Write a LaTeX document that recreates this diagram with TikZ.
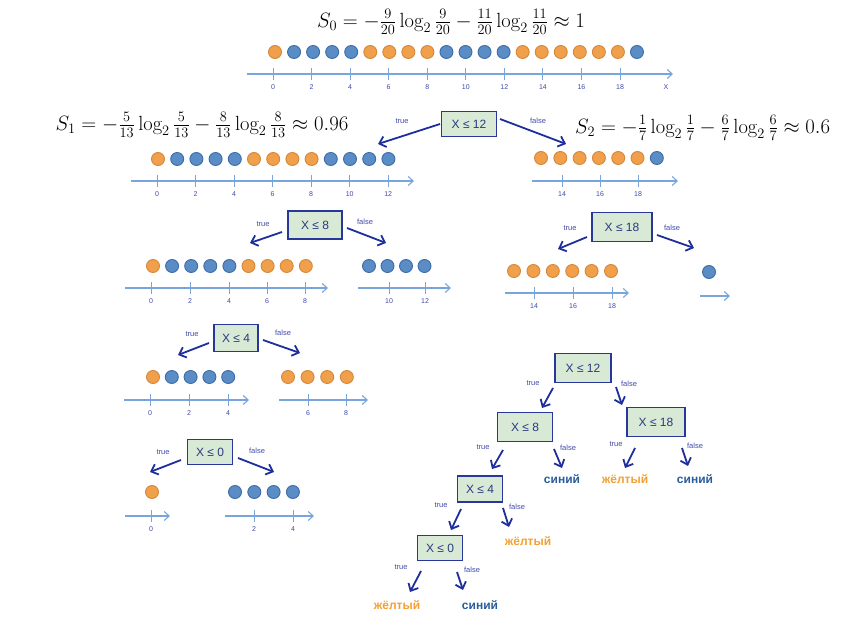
\documentclass[tikz,border=0pt]{standalone}
\usepackage{fontspec}
\setsansfont{Liberation Sans}
\usetikzlibrary{arrows.meta}
\definecolor{dotorange}{HTML}{F0A04B}
\definecolor{dotorangeline}{HTML}{D5873A}
\definecolor{dotblue}{HTML}{5A8CC6}
\definecolor{dotblueline}{HTML}{3E6CA6}
\definecolor{axisblue}{HTML}{7AA5DA}
\definecolor{labelblue}{HTML}{4048A8}
\definecolor{edgeblue}{HTML}{1E2E9C}
\definecolor{boxfill}{HTML}{D8EAD6}
\definecolor{boxline}{HTML}{27389A}
\definecolor{boxtext}{HTML}{2A3A80}
\definecolor{leafblue}{HTML}{2A5C9C}
\definecolor{leaforange}{HTML}{F2A033}

% a split arrow between two named end points
\newcommand\splitarrow[3]{%
  \coordinate (#1-s) at (#2);
  \coordinate (#1-e) at (#3);
  \draw[edge] (#1-s) -- (#1-e);}
% one tick with its value below the axis
\newcommand\axistick[4]{%
  \draw[tick] (#2,#3-6) -- (#2,#3+6);
  \node[ticklbl] (#1) at (#2,#3+13.5) {#4};}

\begin{document}
\begin{tikzpicture}[x=1pt,y=-1pt,
  doto/.style={circle, minimum size=13pt, inner sep=0pt, fill=dotorange, draw=dotorangeline, line width=0.9pt},
  dotb/.style={circle, minimum size=13pt, inner sep=0pt, fill=dotblue, draw=dotblueline, line width=0.9pt},
  axis/.style={draw=axisblue, line width=1.1pt, -{Straight Barb[length=5pt,width=9pt,line width=1.1pt]}},
  tick/.style={draw=axisblue, line width=0.9pt},
  ticklbl/.style={font=\sffamily\fontsize{7}{8}\selectfont, text=labelblue, inner sep=0pt},
  cond/.style={draw=boxline, fill=boxfill, line width=1.4pt, inner sep=0pt,
    font=\sffamily\fontsize{12}{14}\selectfont, text=boxtext},
  edge/.style={draw=edgeblue, line width=1.8pt, -{Straight Barb[length=6pt,width=11pt,line width=1.8pt]}},
  branch/.style={font=\sffamily\fontsize{7.5}{9}\selectfont, text=labelblue, inner sep=0pt},
  leafb/.style={font=\sffamily\bfseries\fontsize{12}{14}\selectfont, text=leafblue, inner sep=0pt},
  leafo/.style={font=\sffamily\bfseries\fontsize{12}{14}\selectfont, text=leaforange, inner sep=0pt},
  formula/.style={font=\fontsize{20.5}{24}\selectfont, inner sep=0pt}
]
\useasboundingbox (0,0) rectangle (866,628);

% ---------- entropy formulas ----------
\node[formula] (s0) at (451,22) {$S_0=-\frac{9}{20}\log_2\frac{9}{20}-\frac{11}{20}\log_2\frac{11}{20}\approx 1$};
\node[formula] (s1) at (202,125) {$S_1=-\frac{5}{13}\log_2\frac{5}{13}-\frac{8}{13}\log_2\frac{8}{13}\approx 0.96$};
\node[formula, anchor=west] (s2) at (575,128) {$S_2=-\frac{1}{7}\log_2\frac{1}{7}-\frac{6}{7}\log_2\frac{6}{7}\approx 0.6$};

% ---------- full sample ----------
\foreach \c [count=\i from 0] in {o,b,b,b,b,o,o,o,o,b,b,b,b,o,o,o,o,o,o,b}
  \node[dot\c] (a-\i) at ({275+19.05*\i},52) {};
\coordinate (ax0-s) at (247,74); \coordinate (ax0-e) at (673,74);
\draw[axis] (ax0-s) -- (ax0-e);
\foreach \v in {0,2,...,18} { \axistick{a-t\v}{273+19.28*\v}{74}{\v} }
\node[ticklbl] (a-x) at (666,87.5) {X};

% ---------- X <= 12 ----------
\node[cond, minimum width=55pt, minimum height=25pt] (c12) at (469,124) {X ≤ 12};
\node[branch] (c12-t) at (402,121) {true};
\node[branch] (c12-f) at (538,121) {false};
\splitarrow{c12a}{440,124}{378,144}
\splitarrow{c12b}{500,119}{566,144}

% left part, X <= 12
\foreach \c [count=\i from 0] in {o,b,b,b,b,o,o,o,o,b,b,b,b}
  \node[dot\c] (b-\i) at ({158+19.2*\i},159) {};
\coordinate (ax1-s) at (131,181); \coordinate (ax1-e) at (414,181);
\draw[axis] (ax1-s) -- (ax1-e);
\foreach \v in {0,2,...,12} { \axistick{b-t\v}{157+19.27*\v}{181}{\v} }

% right part, X > 12
\foreach \c [count=\i from 0] in {o,o,o,o,o,o,b}
  \node[dot\c] (c-\i) at ({541+19.3*\i},158) {};
\coordinate (ax2-s) at (532,181); \coordinate (ax2-e) at (678,181);
\draw[axis] (ax2-s) -- (ax2-e);
\foreach \v/\x in {14/562,16/600,18/638} { \axistick{c-t\v}{\x}{181}{\v} }

% ---------- X <= 8 ----------
\node[cond, minimum width=54pt, minimum height=28pt] (c8) at (315,225) {X ≤ 8};
\node[branch] (c8-t) at (263,224) {true};
\node[branch] (c8-f) at (365,222) {false};
\splitarrow{c8a}{282,232}{250,243}
\splitarrow{c8b}{347,228}{386,243}

\foreach \c [count=\i from 0] in {o,b,b,b,b,o,o,o,o}
  \node[dot\c] (d-\i) at ({153+19.1*\i},266) {};
\coordinate (ax3-s) at (125,288); \coordinate (ax3-e) at (328,288);
\draw[axis] (ax3-s) -- (ax3-e);
\foreach \v/\x in {0/151,2/190,4/229,6/267,8/305} { \axistick{d-t\v}{\x}{288}{\v} }

\foreach \c [count=\i from 0] in {b,b,b,b}
  \node[dot\c] (e-\i) at ({369+18.5*\i},266) {};
\coordinate (ax4-s) at (358,288); \coordinate (ax4-e) at (451,288);
\draw[axis] (ax4-s) -- (ax4-e);
\foreach \v/\x in {10/389,12/425} { \axistick{e-t\v}{\x}{288}{\v} }

% ---------- X <= 18 ----------
\node[cond, minimum width=60pt, minimum height=29pt] (c18) at (622,227) {X ≤ 18};
\node[branch] (c18-t) at (570,228) {true};
\node[branch] (c18-f) at (672,228) {false};
\splitarrow{c18a}{587,237}{558,249}
\splitarrow{c18b}{657,235}{694,248}

\foreach \c [count=\i from 0] in {o,o,o,o,o,o}
  \node[dot\c] (f-\i) at ({514+19.4*\i},271) {};
\coordinate (ax5-s) at (505,293); \coordinate (ax5-e) at (629,293);
\draw[axis] (ax5-s) -- (ax5-e);
\foreach \v/\x in {14/534,16/573,18/612} { \axistick{f-t\v}{\x}{293}{\v} }

\node[dotb] (g-0) at (709,272) {};
\coordinate (ax6-s) at (700,296); \coordinate (ax6-e) at (730,296);
\draw[axis] (ax6-s) -- (ax6-e);

% ---------- X <= 4 ----------
\node[cond, minimum width=44pt, minimum height=27pt] (c4) at (236,338) {X ≤ 4};
\node[branch] (c4-t) at (192,334) {true};
\node[branch] (c4-f) at (283,333) {false};
\splitarrow{c4a}{209,343}{178,355}
\splitarrow{c4b}{263,340}{300,353}

\foreach \c [count=\i from 0] in {o,b,b,b,b}
  \node[dot\c] (h-\i) at ({153+18.8*\i},377) {};
\coordinate (ax7-s) at (124,400); \coordinate (ax7-e) at (249,400);
\draw[axis] (ax7-s) -- (ax7-e);
\foreach \v/\x in {0/150,2/189,4/228} { \axistick{h-t\v}{\x}{400}{\v} }

\foreach \c [count=\i from 0] in {o,o,o,o}
  \node[dot\c] (k-\i) at ({288+19.6*\i},377) {};
\coordinate (ax8-s) at (279,400); \coordinate (ax8-e) at (368,400);
\draw[axis] (ax8-s) -- (ax8-e);
\foreach \v/\x in {6/308,8/346} { \axistick{k-t\v}{\x}{400}{\v} }

% ---------- X <= 0 ----------
\node[cond, minimum width=45pt, minimum height=25pt] (c0) at (210,452) {X ≤ 0};
\node[branch] (c0-t) at (163,452) {true};
\node[branch] (c0-f) at (257,451) {false};
\splitarrow{c0a}{181,460}{150,472}
\splitarrow{c0b}{238,458}{274,472}

\node[doto] (m-0) at (152,492) {};
\coordinate (ax9-s) at (125,516); \coordinate (ax9-e) at (170,516);
\draw[axis] (ax9-s) -- (ax9-e);
\axistick{m-t0}{151}{516}{0}

\foreach \c [count=\i from 0] in {b,b,b,b}
  \node[dot\c] (n-\i) at ({235+19.3*\i},492) {};
\coordinate (ax10-s) at (225,516); \coordinate (ax10-e) at (314,516);
\draw[axis] (ax10-s) -- (ax10-e);
\foreach \v/\x in {2/254,4/293} { \axistick{n-t\v}{\x}{516}{\v} }

% ---------- resulting tree ----------
\node[cond, minimum width=56pt, minimum height=29pt] (t12) at (583,368) {X ≤ 12};
\node[branch] (t12-t) at (533,383) {true};
\node[branch] (t12-f) at (629,384) {false};
\splitarrow{t12a}{553,388}{542,408}
\splitarrow{t12b}{616,387}{622,405}

\node[cond, minimum width=55pt, minimum height=29pt] (t8) at (525,427) {X ≤ 8};
\node[branch] (t8-t) at (483,447) {true};
\node[branch] (t8-f) at (568,448) {false};
\splitarrow{t8a}{503,450}{492,469}
\splitarrow{t8b}{554,449}{562,468}
\node[leafb] (t8-no) at (562,479) {синий};

\node[cond, minimum width=58pt, minimum height=29pt] (t18) at (656,422) {X ≤ 18};
\node[branch] (t18-t) at (616,444) {true};
\node[branch] (t18-f) at (695,446) {false};
\splitarrow{t18a}{635,448}{625,468}
\splitarrow{t18b}{682,448}{688,466}
\node[leafo] (t18-yes) at (625,479) {жёлтый};
\node[leafb] (t18-no) at (695,479) {синий};

\node[cond, minimum width=45pt, minimum height=26pt] (t4) at (480,489) {X ≤ 4};
\node[branch] (t4-t) at (441,505) {true};
\node[branch] (t4-f) at (517,507) {false};
\splitarrow{t4a}{461,509}{451,530}
\splitarrow{t4b}{503,508}{509,527}
\node[leafo] (t4-no) at (528,541) {жёлтый};

\node[cond, minimum width=45pt, minimum height=25pt] (t0) at (440,548) {X ≤ 0};
\node[branch] (t0-t) at (401,567) {true};
\node[branch] (t0-f) at (472,570) {false};
\splitarrow{t0a}{421,571}{410,592}
\splitarrow{t0b}{457,572}{463,590}
\node[leafo] (t0-yes) at (397,605) {жёлтый};
\node[leafb] (t0-no) at (480,605) {синий};
\end{tikzpicture}
\end{document}
